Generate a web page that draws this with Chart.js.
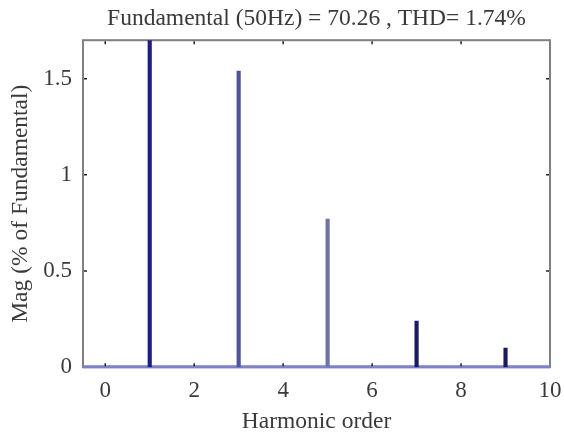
<!DOCTYPE html>
<html lang="en">
<head>
  <meta charset="UTF-8">
  <title>FFT analysis</title>
  <script src="https://cdn.jsdelivr.net/npm/chart.js"></script>
  <style>
    html, body { margin: 0; padding: 0; background: #fff; }
    .chartBox { width: 564px; height: 438px; }
  </style>
</head>
<body>
  <div class="chartBox">
    <canvas id="myChart" width="564" height="438"></canvas>
  </div>
  <script>
    // data
    const harmonicOrder = [1, 3, 5, 7, 9];
    const magnitude = [100, 1.54, 0.77, 0.24, 0.10]; // fundamental is 100%, clipped by the axis
    const xTicks = [0, 2, 4, 6, 8, 10];
    const yTicks = [0, 0.5, 1, 1.5];
    const barColors = ['#1c1c8a', '#50549c', '#6f73aa', '#1a1a66', '#1a1a66'];

    const FONT = 'Liberation Serif, Times New Roman, serif';
    const TXT = '#3a3a3a';

    // matlab style box + inward ticks + blue baseline
    const matlabFrame = {
      id: 'matlabFrame',
      beforeDatasetsDraw(chart) {
        const { ctx, chartArea: { top, bottom, left, right }, scales: { y } } = chart;
        ctx.save();
        ctx.strokeStyle = '#808080';
        ctx.lineWidth = 2;
        ctx.strokeRect(left, top, right - left, bottom - top);
        // zero baseline
        const y0 = y.getPixelForValue(0);
        ctx.strokeStyle = '#7a80d2';
        ctx.lineWidth = 3;
        ctx.beginPath();
        ctx.moveTo(left, y0 - 0.5);
        ctx.lineTo(right, y0 - 0.5);
        ctx.stroke();
        ctx.restore();
      },
      afterDatasetsDraw(chart) {
        const { ctx, chartArea: { top, bottom, left, right }, scales: { x, y } } = chart;
        ctx.save();
        ctx.strokeStyle = '#222';
        ctx.lineWidth = 1.5;
        const len = 3;
        ctx.beginPath();
        xTicks.forEach(v => {
          const px = x.getPixelForValue(v);
          if (px <= left + 1 || px >= right - 1) return;
          ctx.moveTo(px, bottom - 1); ctx.lineTo(px, bottom - 1 - len);
          ctx.moveTo(px, top + 1); ctx.lineTo(px, top + 1 + len);
        });
        yTicks.forEach(v => {
          const py = y.getPixelForValue(v);
          if (py >= bottom - 1 || py <= top + 1) return;
          ctx.moveTo(left + 1, py); ctx.lineTo(left + 1 + len, py);
          ctx.moveTo(right - 1, py); ctx.lineTo(right - 1 - len, py);
        });
        ctx.stroke();
        ctx.restore();
      }
    };

    const data = {
      datasets: [{
        label: 'Mag',
        data: harmonicOrder.map((h, i) => ({ x: h, y: magnitude[i] })),
        backgroundColor: barColors,
        borderWidth: 0,
        barThickness: 3.5
      }]
    };

    const config = {
      type: 'bar',
      data,
      options: {
        responsive: false,
        animation: false,
        devicePixelRatio: 1,
        layout: { padding: { left: 7, right: 14, top: 0, bottom: 2 } },
        scales: {
          x: {
            type: 'linear',
            min: -0.5,
            max: 10,
            offset: false,
            grid: { display: false, drawTicks: false },
            border: { display: false },
            afterBuildTicks: (axis) => { axis.ticks = xTicks.map(v => ({ value: v })); },
            afterFit: (axis) => { axis.paddingRight = 0; axis.paddingLeft = 0; },
            ticks: {
              padding: 10,
              color: TXT,
              font: { family: FONT, size: 23 },
              maxRotation: 0,
              callback: (v) => String(v)
            },
            title: {
              display: true,
              text: 'Harmonic order',
              color: TXT,
              font: { family: FONT, size: 23.5 },
              padding: { top: -7, bottom: 0 }
            }
          },
          y: {
            min: 0,
            max: 1.7,
            grid: { display: false, drawTicks: false },
            border: { display: false },
            afterBuildTicks: (axis) => { axis.ticks = yTicks.map(v => ({ value: v })); },
            afterFit: (axis) => { axis.width = 76; },
            ticks: {
              padding: 11,
              color: TXT,
              font: { family: FONT, size: 23 },
              callback: (v) => String(v)
            },
            title: {
              display: true,
              text: 'Mag (% of Fundamental)',
              color: TXT,
              font: { family: FONT, size: 23.5 },
              padding: { top: 0, bottom: 0 }
            }
          }
        },
        plugins: {
          legend: { display: false },
          tooltip: { enabled: false },
          title: {
            display: true,
            fullSize: false,
            text: 'Fundamental (50Hz) = 70.26 , THD= 1.74%',
            color: TXT,
            font: { family: FONT, size: 23.5, weight: 'normal' },
            padding: { top: 5, bottom: 7 }
          }
        }
      },
      plugins: [matlabFrame]
    };

    const myChart = new Chart(document.getElementById('myChart'), config);
  </script>
</body>
</html>
